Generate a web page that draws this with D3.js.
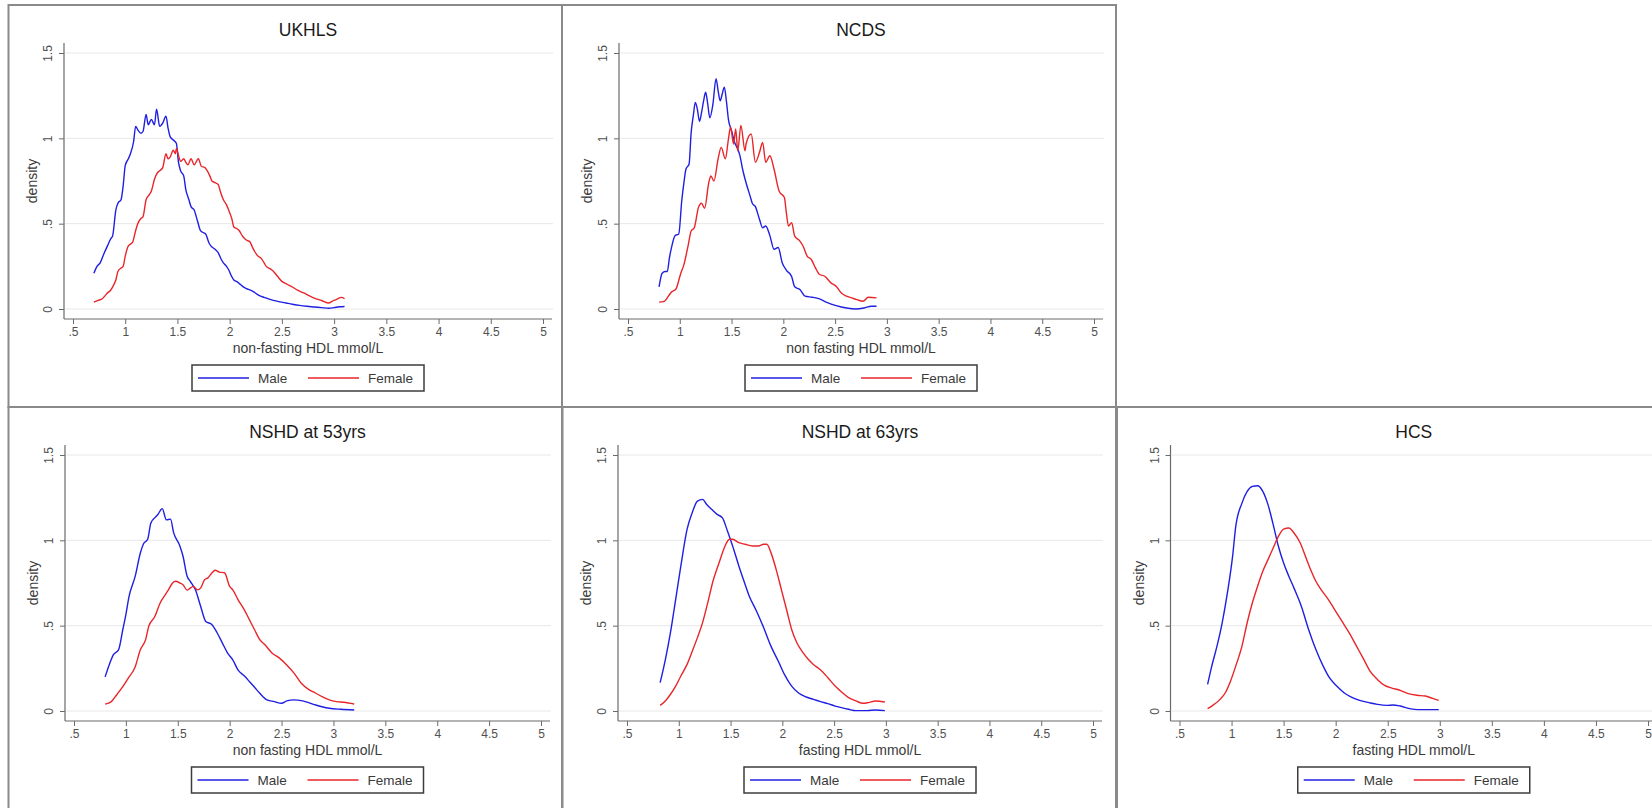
<!DOCTYPE html>
<html>
<head>
<meta charset="utf-8">
<script src="https://cdn.jsdelivr.net/npm/d3@7"></script>
<style>
  html, body { margin: 0; padding: 0; background: #fff; overflow: hidden; }
  svg { display: block; font-family: "Liberation Sans", Arial, Helvetica, sans-serif; }
</style>
</head>
<body>
<svg id="chart" width="1652" height="808"></svg>
<script>
// ---------------------------------------------------------------------------
// Data: kernel density of HDL cholesterol (mmol/L) by sex, one pair per study
// Each entry is [HDL mmol/L, density]
// ---------------------------------------------------------------------------
const studyTitles = ["UKHLS", "NCDS", "NSHD at 53yrs", "NSHD at 63yrs", "HCS"];
const xAxisTitles = [
  "non-fasting HDL mmol/L",
  "non fasting HDL mmol/L",
  "non fasting HDL mmol/L",
  "fasting HDL mmol/L",
  "fasting HDL mmol/L"
];
const seriesNames = ["Male", "Female"];

const xTickValues = [0.5, 1, 1.5, 2, 2.5, 3, 3.5, 4, 4.5, 5];
const xTickLabels = [".5", "1", "1.5", "2", "2.5", "3", "3.5", "4", "4.5", "5"];
const yTickValues = [0, 0.5, 1, 1.5];
const yTickLabels = ["0", ".5", "1", "1.5"];
const yAxisTitle = "density";

const ukhlsMale = [
  [0.70,0.21],[0.73,0.25],[0.76,0.27],[0.80,0.33],[0.83,0.37],[0.86,0.41],[0.88,0.43],
  [0.91,0.58],[0.93,0.62],[0.96,0.64],[0.98,0.72],[1.00,0.84],[1.03,0.88],[1.05,0.91],
  [1.08,0.98],[1.10,1.07],[1.12,1.05],[1.15,1.03],[1.17,1.04],[1.20,1.14],[1.22,1.08],
  [1.25,1.11],[1.28,1.08],[1.30,1.17],[1.33,1.07],[1.36,1.09],[1.39,1.13],[1.41,1.06],
  [1.43,1.01],[1.46,0.99],[1.49,0.97],[1.51,0.86],[1.53,0.81],[1.56,0.78],[1.58,0.70],
  [1.61,0.64],[1.63,0.60],[1.66,0.58],[1.69,0.52],[1.72,0.46],[1.74,0.45],[1.77,0.44],
  [1.80,0.39],[1.82,0.37],[1.86,0.35],[1.89,0.33],[1.92,0.29],[1.94,0.27],[1.97,0.25],
  [1.99,0.23],[2.02,0.19],[2.04,0.17],[2.07,0.16],[2.09,0.15],[2.13,0.13],[2.16,0.12],
  [2.20,0.11],[2.23,0.10],[2.28,0.08],[2.33,0.068],[2.38,0.058],[2.43,0.049],[2.48,0.042],
  [2.54,0.035],[2.60,0.028],[2.67,0.021],[2.74,0.016],[2.81,0.012],[2.88,0.008],
  [2.95,0.004],[3.00,0.008],[3.05,0.013],[3.10,0.015]
];
const ukhlsFemale = [
  [0.70,0.04],[0.74,0.05],[0.78,0.06],[0.81,0.08],[0.83,0.094],[0.86,0.11],[0.88,0.13],
  [0.91,0.17],[0.93,0.22],[0.96,0.24],[0.98,0.25],[1.00,0.31],[1.03,0.37],[1.05,0.38],
  [1.07,0.39],[1.10,0.46],[1.12,0.50],[1.15,0.53],[1.17,0.54],[1.20,0.64],[1.23,0.67],
  [1.25,0.69],[1.28,0.76],[1.31,0.80],[1.33,0.81],[1.36,0.83],[1.39,0.91],[1.41,0.88],
  [1.43,0.89],[1.46,0.93],[1.48,0.91],[1.49,0.94],[1.51,0.90],[1.53,0.865],[1.56,0.88],
  [1.58,0.86],[1.60,0.845],[1.63,0.88],[1.66,0.845],[1.70,0.88],[1.73,0.835],[1.76,0.83],
  [1.78,0.815],[1.81,0.78],[1.83,0.75],[1.86,0.74],[1.89,0.73],[1.91,0.69],[1.94,0.64],
  [1.97,0.61],[1.99,0.58],[2.02,0.53],[2.04,0.48],[2.07,0.47],[2.09,0.46],[2.12,0.43],
  [2.14,0.415],[2.17,0.40],[2.19,0.396],[2.22,0.36],[2.24,0.337],[2.27,0.31],[2.30,0.298],
  [2.33,0.27],[2.35,0.25],[2.39,0.235],[2.42,0.22],[2.46,0.19],[2.50,0.162],[2.55,0.145],
  [2.60,0.129],[2.65,0.11],[2.71,0.094],[2.76,0.078],[2.81,0.064],[2.88,0.05],[2.95,0.035],
  [2.98,0.045],[3.02,0.055],[3.07,0.068],[3.10,0.06]
];

const ncdsMale = [
  [0.80,0.13],[0.83,0.21],[0.86,0.22],[0.88,0.22],[0.90,0.30],[0.92,0.36],[0.955,0.43],
  [0.99,0.44],[1.02,0.64],[1.04,0.74],[1.06,0.82],[1.09,0.85],[1.11,1.035],[1.13,1.13],
  [1.15,1.21],[1.17,1.17],[1.19,1.10],[1.21,1.15],[1.23,1.22],[1.25,1.27],[1.27,1.20],
  [1.29,1.12],[1.32,1.20],[1.35,1.35],[1.37,1.28],[1.39,1.22],[1.41,1.26],[1.43,1.30],
  [1.45,1.22],[1.47,1.11],[1.50,1.045],[1.53,0.976],[1.55,0.95],[1.58,0.90],[1.61,0.81],
  [1.64,0.74],[1.68,0.66],[1.70,0.62],[1.73,0.60],[1.77,0.525],[1.80,0.476],[1.83,0.486],
  [1.87,0.43],[1.91,0.35],[1.95,0.36],[1.99,0.27],[2.03,0.227],[2.08,0.19],[2.11,0.13],
  [2.16,0.114],[2.21,0.075],[2.28,0.069],[2.35,0.059],[2.42,0.039],[2.51,0.02],
  [2.61,0.006],[2.70,0.0],[2.78,0.006],[2.85,0.016],[2.90,0.016]
];
const ncdsFemale = [
  [0.80,0.04],[0.85,0.045],[0.89,0.075],[0.92,0.10],[0.96,0.114],[1.01,0.21],[1.04,0.26],
  [1.08,0.37],[1.11,0.457],[1.14,0.476],[1.18,0.594],[1.21,0.62],[1.24,0.59],[1.28,0.74],
  [1.30,0.78],[1.33,0.75],[1.37,0.88],[1.40,0.947],[1.44,0.88],[1.47,0.996],[1.49,1.065],
  [1.52,0.967],[1.54,1.055],[1.56,0.927],[1.59,1.075],[1.63,0.927],[1.64,0.967],
  [1.69,1.025],[1.73,0.86],[1.77,0.918],[1.80,0.976],[1.83,0.86],[1.87,0.898],[1.91,0.82],
  [1.96,0.69],[2.01,0.653],[2.03,0.56],[2.05,0.486],[2.08,0.506],[2.11,0.427],[2.16,0.398],
  [2.19,0.369],[2.23,0.31],[2.27,0.29],[2.31,0.241],[2.35,0.202],[2.40,0.192],[2.46,0.153],
  [2.51,0.133],[2.56,0.094],[2.61,0.075],[2.66,0.065],[2.71,0.055],[2.77,0.045],
  [2.82,0.069],[2.90,0.065]
];

const nshd53Male = [
  [0.80,0.20],[0.845,0.28],[0.88,0.33],[0.93,0.36],[0.97,0.476],[1.00,0.565],[1.03,0.67],
  [1.09,0.79],[1.14,0.927],[1.17,0.98],[1.21,1.006],[1.24,1.10],[1.28,1.133],[1.31,1.153],
  [1.35,1.186],[1.39,1.12],[1.43,1.124],[1.46,1.045],[1.52,0.967],[1.55,0.908],[1.59,0.79],
  [1.62,0.76],[1.67,0.71],[1.72,0.614],[1.77,0.525],[1.83,0.506],[1.88,0.457],[1.93,0.398],
  [1.98,0.339],[2.03,0.30],[2.08,0.241],[2.14,0.206],[2.19,0.173],[2.24,0.139],[2.29,0.104],
  [2.36,0.065],[2.43,0.055],[2.50,0.045],[2.55,0.059],[2.62,0.065],[2.69,0.061],
  [2.76,0.049],[2.83,0.035],[2.89,0.025],[2.96,0.016],[3.07,0.01],[3.20,0.006]
];
const nshd53Female = [
  [0.80,0.04],[0.86,0.055],[0.91,0.094],[0.97,0.143],[1.02,0.19],[1.09,0.26],[1.14,0.36],
  [1.19,0.418],[1.22,0.496],[1.28,0.555],[1.33,0.633],[1.38,0.682],[1.41,0.71],[1.45,0.75],
  [1.48,0.76],[1.52,0.75],[1.55,0.74],[1.59,0.708],[1.62,0.72],[1.65,0.73],[1.69,0.71],
  [1.72,0.72],[1.76,0.77],[1.79,0.78],[1.83,0.81],[1.86,0.825],[1.90,0.814],[1.95,0.81],
  [2.00,0.73],[2.03,0.71],[2.08,0.653],[2.14,0.594],[2.19,0.535],[2.24,0.476],[2.29,0.418],
  [2.34,0.388],[2.41,0.339],[2.48,0.31],[2.55,0.27],[2.62,0.222],[2.69,0.163],[2.76,0.127],
  [2.83,0.104],[2.89,0.084],[2.96,0.065],[3.03,0.055],[3.10,0.051],[3.20,0.041]
];

const nshd63Male = [
  [0.82,0.166],[0.87,0.30],[0.92,0.46],[0.97,0.654],[1.02,0.85],[1.08,1.064],[1.13,1.162],
  [1.18,1.23],[1.23,1.24],[1.27,1.21],[1.32,1.18],[1.37,1.152],[1.42,1.133],[1.47,1.055],
  [1.52,0.967],[1.58,0.85],[1.63,0.76],[1.68,0.674],[1.75,0.586],[1.82,0.488],[1.89,0.38],
  [1.96,0.293],[2.02,0.215],[2.09,0.146],[2.16,0.104],[2.23,0.082],[2.30,0.068],
  [2.37,0.055],[2.44,0.043],[2.51,0.029],[2.58,0.018],[2.64,0.01],[2.71,0.002],
  [2.82,0.002],[2.90,0.006],[2.99,0.002]
];
const nshd63Female = [
  [0.82,0.033],[0.87,0.059],[0.92,0.098],[0.97,0.146],[1.02,0.205],[1.08,0.273],[1.13,0.35],
  [1.18,0.43],[1.23,0.518],[1.28,0.635],[1.33,0.76],[1.39,0.87],[1.44,0.957],[1.49,1.006],
  [1.52,1.006],[1.58,0.986],[1.64,0.977],[1.71,0.967],[1.77,0.967],[1.82,0.977],
  [1.85,0.977],[1.89,0.928],[1.94,0.83],[1.99,0.713],[2.04,0.596],[2.09,0.478],[2.14,0.40],
  [2.20,0.342],[2.25,0.303],[2.30,0.273],[2.37,0.24],[2.44,0.195],[2.51,0.146],[2.58,0.107],
  [2.64,0.078],[2.71,0.059],[2.78,0.045],[2.83,0.049],[2.90,0.059],[2.99,0.053]
];

const hcsMale = [
  [0.77,0.156],[0.81,0.263],[0.86,0.38],[0.91,0.517],[0.96,0.692],[1.01,0.906],[1.04,1.08],
  [1.10,1.218],[1.15,1.287],[1.20,1.316],[1.25,1.32],[1.30,1.287],[1.35,1.209],[1.40,1.092],
  [1.45,0.965],[1.50,0.867],[1.55,0.79],[1.60,0.72],[1.67,0.614],[1.74,0.478],[1.81,0.36],
  [1.88,0.263],[1.94,0.195],[2.01,0.146],[2.08,0.107],[2.15,0.082],[2.23,0.062],[2.32,0.049],
  [2.40,0.039],[2.49,0.033],[2.55,0.035],[2.62,0.029],[2.71,0.014],[2.79,0.008],
  [2.89,0.008],[2.99,0.008]
];
const hcsFemale = [
  [0.77,0.014],[0.82,0.033],[0.89,0.068],[0.94,0.107],[0.99,0.175],[1.04,0.263],[1.10,0.38],
  [1.15,0.517],[1.20,0.634],[1.25,0.731],[1.30,0.819],[1.35,0.887],[1.40,0.955],[1.45,1.023],
  [1.50,1.066],[1.55,1.072],[1.60,1.043],[1.66,0.984],[1.71,0.906],[1.76,0.828],[1.81,0.76],
  [1.86,0.711],[1.93,0.653],[1.99,0.594],[2.06,0.526],[2.13,0.458],[2.20,0.38],[2.27,0.302],
  [2.33,0.234],[2.40,0.185],[2.47,0.15],[2.54,0.134],[2.61,0.123],[2.69,0.103],[2.78,0.092],
  [2.86,0.088],[2.93,0.074],[2.99,0.062]
];

const panelSeries = [
  [ukhlsMale, ukhlsFemale],
  [ncdsMale, ncdsFemale],
  [nshd53Male, nshd53Female],
  [nshd63Male, nshd63Female],
  [hcsMale, hcsFemale]
];

// ---------------------------------------------------------------------------
// Layout and styling
// ---------------------------------------------------------------------------
// frame: [left, top, right, bottom] of each sub-graph's outline
// plot:  [left, top, right, bottom] of the axis region (y axis at left, x axis at bottom)
const panelLayout = [
  { frame: [8.5, 5, 562, 407],      plot: [64, 43, 552, 319] },
  { frame: [562, 5, 1116, 407],     plot: [619, 43, 1103, 319] },
  { frame: [8.5, 407, 562, 840],    plot: [65, 445, 550, 721] },
  { frame: [562.5, 407, 1117, 840], plot: [618, 445, 1102, 721] },
  { frame: [1116, 407, 1690, 840],  plot: [1170.5, 445, 1657, 721] }
];
const seriesColors = ["#1f1fe3", "#e8262a"];
const PAD_X = 9, PAD_Y = 10;
const FONT = "'Liberation Sans', Arial, sans-serif";

const svg = d3.select("#chart");

svg.append("rect").attr("width", 1652).attr("height", 808).attr("fill", "#fff");

// Sub-graph outlines
panelLayout.forEach(L => {
  const [fl, ft, fr, fb] = L.frame;
  svg.append("rect")
    .attr("x", fl).attr("y", ft)
    .attr("width", fr - fl).attr("height", fb - ft)
    .attr("fill", "none")
    .attr("stroke", "#8a8a8a")
    .attr("stroke-width", 2);
});

panelSeries.forEach((series, i) => {
  const L = panelLayout[i];
  const [pl, pt, pr, pb] = L.plot;
  const cx = (pl + pr) / 2;

  const x = d3.scaleLinear().domain([0.5, 5]).range([pl + PAD_X, pr - PAD_X]);
  const y = d3.scaleLinear().domain([0, 1.5]).range([pb - PAD_Y, pt + PAD_Y]);

  const g = svg.append("g");

  // Horizontal grid lines
  g.append("g").selectAll("line")
    .data(yTickValues)
    .join("line")
    .attr("x1", pl + 1).attr("x2", pr + 1)
    .attr("y1", d => y(d)).attr("y2", d => y(d))
    .attr("stroke", "#e8e8e8")
    .attr("stroke-width", 1);

  // X axis
  const xAxis = g.append("g")
    .attr("transform", `translate(0,${pb})`)
    .call(d3.axisBottom(x)
      .tickValues(xTickValues)
      .tickFormat((d, k) => xTickLabels[k])
      .tickSize(5).tickPadding(3).tickSizeOuter(0));
  xAxis.select(".domain").remove();
  xAxis.selectAll(".tick line").attr("stroke", "#6a6a6a");
  xAxis.selectAll(".tick text")
    .attr("fill", "#505050")
    .style("font-family", FONT)
    .style("font-size", "12px");

  // Y axis
  const yAxis = g.append("g")
    .attr("transform", `translate(${pl},0)`)
    .call(d3.axisLeft(y)
      .tickValues(yTickValues)
      .tickFormat((d, k) => yTickLabels[k])
      .tickSize(5).tickSizeOuter(0));
  yAxis.select(".domain").remove();
  yAxis.selectAll(".tick line").attr("stroke", "#6a6a6a");
  yAxis.selectAll(".tick text")
    .attr("x", null).attr("dy", null)
    .attr("transform", "translate(-16,0) rotate(-90)")
    .attr("text-anchor", "middle")
    .attr("dominant-baseline", "central")
    .attr("fill", "#505050")
    .style("font-family", FONT)
    .style("font-size", "12px");

  // Axis lines spanning the full plot region
  g.append("line")
    .attr("x1", pl).attr("x2", pr).attr("y1", pb).attr("y2", pb)
    .attr("stroke", "#6a6a6a").attr("stroke-width", 1.2);
  g.append("line")
    .attr("x1", pl).attr("x2", pl).attr("y1", pt).attr("y2", pb)
    .attr("stroke", "#6a6a6a").attr("stroke-width", 1.2);

  // Density curves
  const line = d3.line()
    .x(d => x(d[0]))
    .y(d => y(d[1]))
    .curve(d3.curveMonotoneX);

  series.forEach((pts, s) => {
    g.append("path")
      .datum(pts)
      .attr("d", line)
      .attr("fill", "none")
      .attr("stroke", seriesColors[s])
      .attr("stroke-width", 1.4)
      .attr("stroke-linejoin", "round");
  });

  // Title
  g.append("text")
    .attr("x", cx).attr("y", L.frame[1] + 25)
    .attr("text-anchor", "middle")
    .attr("dominant-baseline", "central")
    .attr("fill", "#1a1a1a")
    .style("font-size", "17.5px")
    .text(studyTitles[i]);

  // Axis titles
  g.append("text")
    .attr("x", cx).attr("y", pb + 29)
    .attr("text-anchor", "middle")
    .attr("dominant-baseline", "central")
    .attr("fill", "#3a3a3a")
    .style("font-size", "14px")
    .text(xAxisTitles[i]);

  g.append("text")
    .attr("transform", `translate(${pl - 32},${(pt + pb) / 2}) rotate(-90)`)
    .attr("text-anchor", "middle")
    .attr("dominant-baseline", "central")
    .attr("fill", "#3a3a3a")
    .style("font-size", "14px")
    .text(yAxisTitle);

  // Legend
  const lw = 232, lh = 26;
  const lx = cx - lw / 2, ly = pb + 46;
  const legend = g.append("g").attr("transform", `translate(${lx},${ly})`);
  legend.append("rect")
    .attr("width", lw).attr("height", lh)
    .attr("fill", "#fff")
    .attr("stroke", "#3c3c3c")
    .attr("stroke-width", 1.5);
  const entryOffsets = [6, 116];
  seriesNames.forEach((name, s) => {
    const ox = entryOffsets[s];
    legend.append("line")
      .attr("x1", ox).attr("x2", ox + 51)
      .attr("y1", lh / 2).attr("y2", lh / 2)
      .attr("stroke", seriesColors[s])
      .attr("stroke-width", 1.3);
    legend.append("text")
      .attr("x", ox + 60).attr("y", lh / 2)
      .attr("dominant-baseline", "central")
      .attr("fill", "#3a3a3a")
      .style("font-size", "13.5px")
      .text(name);
  });
});
</script>
</body>
</html>
